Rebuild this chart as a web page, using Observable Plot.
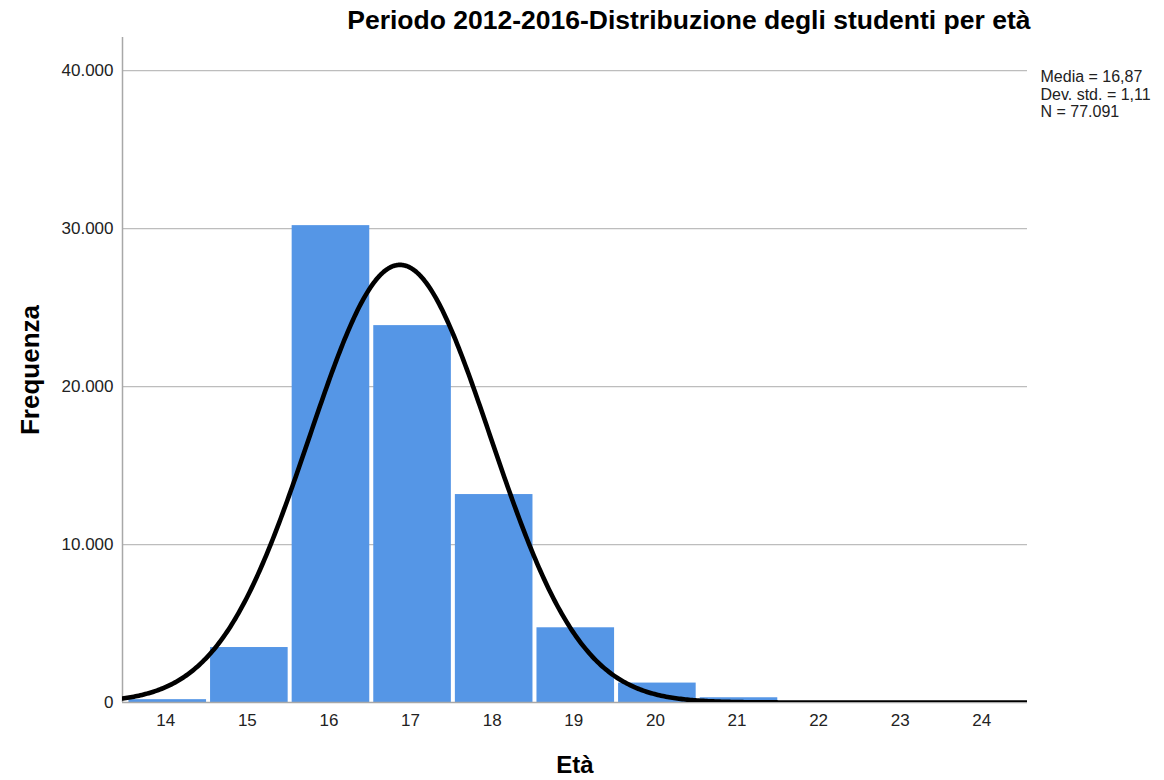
<!DOCTYPE html>
<html>
<head>
<meta charset="utf-8">
<script src="https://cdn.jsdelivr.net/npm/d3@7"></script>
<script src="https://cdn.jsdelivr.net/npm/@observablehq/plot@0.6"></script>
<style>
  html, body { margin: 0; padding: 0; background: #fff; }
  #chart svg { display: block; }
</style>
</head>
<body>
<div id="chart"></div>
<script>
// ---- Data ----
const ages = [14, 15, 16, 17, 18, 19, 20, 21, 22, 23, 24];
const counts = [180, 3480, 30190, 23860, 13165, 4730, 1230, 300, 40, 10, 5];
const yTicks = [0, 10000, 20000, 30000, 40000];
const xTicks = [14, 15, 16, 17, 18, 19, 20, 21, 22, 23, 24];
const statMean = 16.87;
const statSd = 1.11;
const statN = 77091;
const titleText = "Periodo 2012-2016-Distribuzione degli studenti per età";
const xLabel = "Età";
const yLabel = "Frequenza";

// ---- Formatting (Italian) ----
const it = d3.formatLocale({decimal: ",", thousands: ".", grouping: [3], currency: ["", " €"]});
const fmtThousands = it.format(",");
const fmt2 = it.format(".2f");
const legendText = `Media = ${fmt2(statMean)}\nDev. std. = ${fmt2(statSd)}\nN = ${fmtThousands(statN)}`;

const xDomain = [13.47, 24.56];
const yDomain = [0, 42100];

const bars = ages.map((a, i) => ({x1: a - 0.5, x2: a + 0.5, count: counts[i]}));

// fitted normal curve (bin width 1) from displayed mean, std dev, N
const curve = d3.range(xDomain[0], xDomain[1] + 1e-9, 0.02).map(x => ({
  x,
  y: statN / (statSd * Math.sqrt(2 * Math.PI)) * Math.exp(-0.5 * ((x - statMean) / statSd) ** 2)
}));

const chart = Plot.plot({
  width: 1164,
  height: 780,
  marginLeft: 122,
  marginRight: 137,
  marginTop: 37,
  marginBottom: 78,
  style: {fontFamily: "'Liberation Sans', Arial, sans-serif", background: "#fff", color: "#222"},
  x: {domain: xDomain},
  y: {domain: yDomain},
  marks: [
    Plot.gridY(yTicks.filter(d => d > 0), {stroke: "#bdbdbd", strokeOpacity: 1, strokeWidth: 1.3}),
    Plot.rectY(bars, {x1: "x1", x2: "x2", y: "count", fill: "#5596e6", insetLeft: 4, insetRight: 0, clip: true}),
    Plot.ruleX([xDomain[0]], {stroke: "#a8a8a8", strokeWidth: 1.5}),
    Plot.ruleY([0], {stroke: "#a8a8a8", strokeWidth: 1.5}),
    Plot.line(curve, {x: "x", y: "y", stroke: "#000", strokeWidth: 4.6, clip: true}),
    Plot.axisY({ticks: yTicks, tickSize: 0, tickPadding: 9, fontSize: 17, tickFormat: d => fmtThousands(d), label: null}),
    Plot.axisX({ticks: xTicks, tickSize: 0, tickPadding: 11, fontSize: 17, tickFormat: d => String(d), label: null}),
    Plot.text([yLabel], {frameAnchor: "left", textAnchor: "middle", lineAnchor: "middle", rotate: -90, dx: -92, fontSize: 26, fontWeight: "bold", fill: "#000"}),
    Plot.text([xLabel], {frameAnchor: "bottom", lineAnchor: "middle", dy: 63, fontSize: 24, fontWeight: "bold", fill: "#000"}),
    Plot.text([titleText], {frameAnchor: "top-right", textAnchor: "end", lineAnchor: "middle", dx: 3, dy: -17, fontSize: 26.5, fontWeight: "bold", fill: "#000"}),
    Plot.text([legendText], {frameAnchor: "top-right", textAnchor: "start", lineAnchor: "top", lineHeight: 1.1, dx: 13, dy: 32, fontSize: 16, fill: "#222"})
  ]
});
document.getElementById("chart").appendChild(chart);
</script>
</body>
</html>
